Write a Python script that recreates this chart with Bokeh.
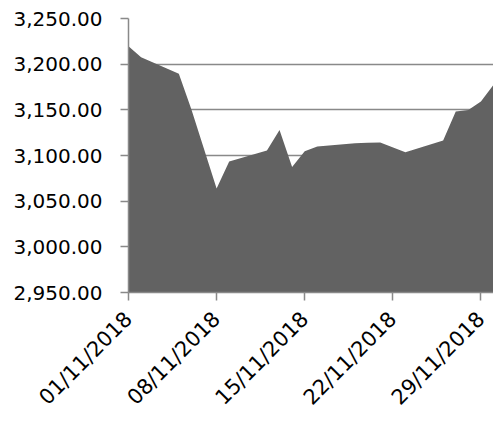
import math
from datetime import datetime

from bokeh.plotting import figure
from bokeh.models import FixedTicker, NumeralTickFormatter, DatetimeTickFormatter, Range1d
from bokeh.embed import file_html
from bokeh.resources import INLINE

# Daily closing values, November 2018 (trading days only)
dates = [
    "2018-11-01", "2018-11-02", "2018-11-05", "2018-11-06", "2018-11-07",
    "2018-11-08", "2018-11-09", "2018-11-12", "2018-11-13", "2018-11-14",
    "2018-11-15", "2018-11-16", "2018-11-19", "2018-11-20", "2018-11-21",
    "2018-11-23", "2018-11-26", "2018-11-27", "2018-11-28", "2018-11-29",
    "2018-11-30",
]
values = [
    3219.6, 3207.6, 3189.5, 3150.5, 3107.0,
    3064.0, 3093.5, 3105.5, 3128.0, 3087.5,
    3104.6, 3109.8, 3113.5, 3113.9, 3114.2,
    3103.5, 3116.3, 3148.2, 3149.7, 3159.0,
    3177.5,
]
x_tick_dates = ["2018-11-01", "2018-11-08", "2018-11-15", "2018-11-22", "2018-11-29"]
y_ticks = [2950, 3000, 3050, 3100, 3150, 3200, 3250]

xs = [datetime.strptime(d, "%Y-%m-%d") for d in dates]
x_ticks_ms = [datetime.strptime(d, "%Y-%m-%d").timestamp() * 1000 for d in x_tick_dates]
baseline = y_ticks[0]

FONT = "DejaVu Sans"
GRAY = "#898989"

p = figure(
    width=493, height=421,
    x_axis_type="datetime",
    output_backend="svg", toolbar_location=None,
    min_border_left=128, min_border_right=0,
    min_border_top=18, min_border_bottom=127,
)
p.x_range = Range1d(xs[0], xs[-1])
p.y_range = Range1d(y_ticks[0], y_ticks[-1])

p.varea(x=xs, y1=[baseline] * len(xs), y2=values, fill_color="#626262")

p.outline_line_color = None
p.background_fill_color = "white"
p.border_fill_color = "white"

p.xgrid.grid_line_color = None
p.ygrid.grid_line_color = GRAY
p.ygrid.grid_line_width = 1.5

p.yaxis.ticker = FixedTicker(ticks=y_ticks)
p.yaxis.formatter = NumeralTickFormatter(format="0,0.00")
p.xaxis.ticker = FixedTicker(ticks=x_ticks_ms)
p.xaxis.formatter = DatetimeTickFormatter(days="%d/%m/%Y", months="%d/%m/%Y",
                                          hours="%d/%m/%Y", years="%d/%m/%Y")
p.xaxis.major_label_orientation = math.pi / 4

for ax in (p.xaxis, p.yaxis):
    ax.axis_line_color = GRAY
    ax.axis_line_width = 1.5
    ax.major_tick_line_color = GRAY
    ax.major_tick_line_width = 1.5
    ax.major_tick_in = 0
    ax.major_tick_out = 8
    ax.minor_tick_line_color = None
    ax.major_label_text_font = FONT
    ax.major_label_text_color = "black"

p.yaxis.major_label_text_font_size = "20px"
p.xaxis.major_label_text_font_size = "21px"
p.yaxis.major_label_standoff = 18
p.xaxis.major_label_standoff = 15

open("out.html", "w").write(file_html(p, INLINE))
